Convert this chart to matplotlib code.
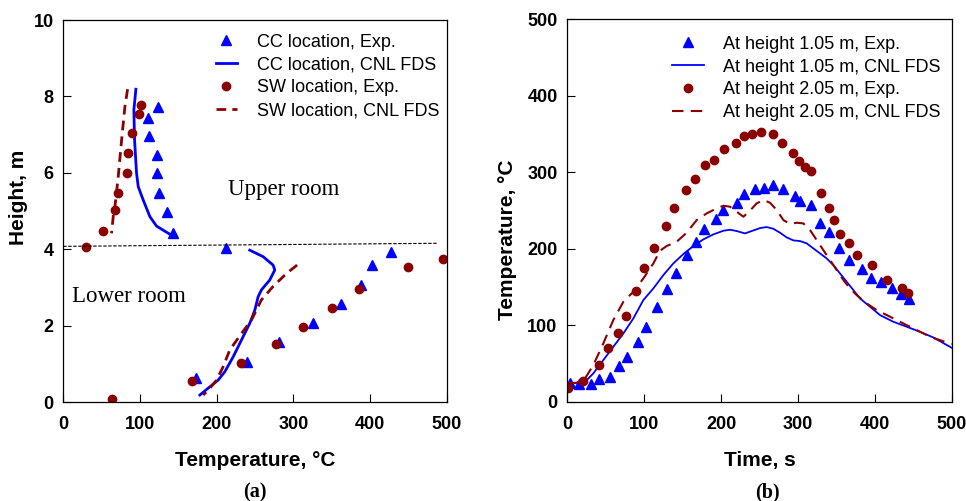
import matplotlib
matplotlib.use("Agg")
import matplotlib.pyplot as plt

plt.rcParams['font.family'] = ['Liberation Sans', 'DejaVu Sans']

blue = '#0000FF'
red = '#8B0000'

# (a) height profiles
cc_exp_T = [123.7, 110.7, 112, 121.5, 121.5, 124.6, 135.4, 143.2, 212.7,
            427.5, 402.3, 387.6, 361.5, 325.5, 280.8, 239.6, 172.7]
cc_exp_H = [7.72, 7.45, 6.97, 6.47, 6.0, 5.47, 4.98, 4.42, 4.03,
            3.93, 3.59, 3.06, 2.57, 2.08, 1.57, 1.05, 0.63]

sw_exp_T = [101.6, 98.5, 89, 84.6, 82.9, 71.6, 67.3, 51.2, 29.5,
            494.8, 449.2, 385.4, 350.7, 312.9, 276.9, 231.3, 167.5, 63.8]
sw_exp_H = [7.79, 7.53, 7.05, 6.51, 6.0, 5.48, 5.03, 4.49, 4.07,
            3.75, 3.53, 2.96, 2.48, 1.97, 1.53, 1.02, 0.56, 0.09]

cc_up_T = [94.6, 92, 92.9, 95.5, 97.7, 104.2, 112.8, 121.5, 134.5, 145.4]
cc_up_H = [8.19, 7.65, 6.86, 5.99, 5.64, 5.29, 4.86, 4.61, 4.45, 4.32]
cc_lo_T = [243, 260.4, 273.4, 275.6, 269.1, 258.2, 253.9, 249.6, 243.1,
           232.2, 221.4, 210.5, 201.8, 188.8, 178]
cc_lo_H = [3.98, 3.81, 3.59, 3.46, 3.2, 2.94, 2.76, 2.41, 2.07,
           1.63, 1.19, 0.8, 0.58, 0.37, 0.19]

sw_up_T = [83.8, 80.3, 76, 71.6, 67.3, 65.1, 62.9]
sw_up_H = [8.19, 7.73, 6.86, 5.9, 5.12, 4.86, 4.42]
sw_lo_T = [304.7, 290.8, 273.4, 258.2, 245.2, 232.2, 217, 208.3, 199.7, 191, 182.3]
sw_lo_H = [3.59, 3.37, 3.03, 2.68, 2.15, 1.8, 1.37, 0.93, 0.58, 0.37, 0.19]

# (b) time histories
t105_exp = [3.5, 15.6, 30.4, 41.6, 55.5, 67.7, 78.1, 91.5, 101.9, 117.1, 129.2,
            141.4, 155.2, 167, 177.8, 193.4, 203, 220.3, 230.3, 244.1, 255.9,
            267.1, 280.1, 296.6, 302.7, 316.6, 328.7, 340.9, 353.9, 366.9,
            382.9, 394.6, 407.6, 421.9, 433.6, 444.9]
T105_exp = [24, 22.7, 22.7, 29.2, 32.7, 46.6, 58, 78.5, 98, 123.4, 146.9,
            168.7, 192.2, 209.2, 225.4, 239.3, 250.7, 260.2, 271.1, 278.6, 279,
            282.9, 278.1, 269, 262.9, 256.8, 234.1, 222.3, 200.5, 185.3,
            173.1, 162.2, 156.1, 148.2, 140.4, 133.8]

t205_exp = [1.3, 19.9, 41.2, 53.3, 65.5, 75.9, 89.3, 100.2, 113.2, 127.9, 139.2,
            154.8, 166.6, 178.7, 190.9, 203.4, 219.4, 229.8, 240.7, 252, 268,
            279.3, 294, 301.4, 308.8, 316.6, 330, 340, 347.4, 355.2, 366.5,
            376.4, 396, 415.4, 435, 443.6]
T205_exp = [17.4, 27, 48, 69.7, 89.4, 112.5, 144.7, 174.4, 201.4, 230.2, 253.7,
            276.8, 291.6, 309.5, 316, 330.4, 337.8, 347.9, 349.6, 353.1, 349.6,
            337.8, 325.6, 314.3, 306.9, 301.7, 272.5, 252.8, 237.1, 219.7, 207.9,
            191.8, 178.3, 158.7, 149.1, 142.5]

t105_fds = [0, 12.1, 25.2, 33.8, 46.8, 59.8, 72.9, 85.9, 98.9, 111.9, 124.9,
            137.9, 150.9, 163.9, 176.9, 189.9, 203, 211.6, 220.3, 231.1, 239.8,
            250.7, 259.3, 268, 276.7, 285.3, 294, 302.7, 311.4, 320, 328.7,
            337.4, 346, 354.7, 363.4, 372.1, 380.7, 393.8, 406.8, 424.1, 441.5,
            458.8, 476.1, 500]
T105_fds = [24, 24.8, 28.3, 37.1, 54.5, 71.9, 89.4, 109, 133, 148.2, 165.6,
            180.9, 193.1, 203.6, 212.3, 218.8, 223.6, 224.9, 223.2, 220.1, 223.2,
            227.1, 228.4, 226.2, 221, 214.9, 211, 210.1, 207.1, 200.5, 194,
            187.4, 178.7, 167.8, 156.9, 146, 135.1, 124.2, 113.3, 104.6, 98.1,
            91.5, 84.1, 70.6]

t205_fds = [0, 12.1, 23, 33.8, 46.8, 59.8, 72.9, 85.9, 98.9, 111.9, 120.6,
            129.2, 142.2, 155.2, 168.3, 181.3, 194.3, 203, 211.6, 220.3, 229,
            237.6, 246.3, 255, 263.7, 272.3, 281, 289.7, 298.4, 307, 315.7,
            324.4, 333, 341.7, 350.4, 359.1, 367.7, 376.4, 389.4, 402.4, 419.8,
            437.1, 454.5, 471.8, 500]
T205_fds = [24.8, 24.8, 30.5, 48, 76.3, 106.8, 130.8, 143.9, 161.3, 180.9, 197.5,
            203.6, 209.2, 221, 237.6, 246.3, 252.8, 256.3, 255, 248.5, 241.9,
            249.8, 259.4, 263.7, 260.2, 250.7, 237.6, 232.3, 234.1, 233.2, 224.5,
            211.4, 198.3, 185.3, 172.2, 159.1, 148.2, 139.5, 128.6, 119.9, 111.2,
            102.4, 93.7, 85, 75.4]

fig = plt.figure(figsize=(9.66, 5.01), dpi=100)
ax1 = fig.add_axes([0.0655, 0.197, 0.3972, 0.763])
ax2 = fig.add_axes([0.5873, 0.198, 0.3979, 0.7635])

# ---- panel (a)
ax1.plot(cc_exp_T, cc_exp_H, '^', color=blue, ms=7.5, ls='none', label='CC location, Exp.')
ax1.plot(cc_up_T, cc_up_H, '-', color=blue, lw=2, label='CC location, CNL FDS')
ax1.plot(cc_lo_T, cc_lo_H, '-', color=blue, lw=2)
ax1.plot(sw_exp_T, sw_exp_H, 'o', color=red, ms=6, ls='none', label='SW location, Exp.')
ax1.plot(sw_up_T, sw_up_H, color=red, lw=2, dashes=(3.5, 2.2), label='SW location, CNL FDS')
ax1.plot(sw_lo_T, sw_lo_H, color=red, lw=2, dashes=(3.5, 2.2))
ax1.plot([0, 488], [4.08, 4.16], color='black', lw=0.8, dashes=(3, 1.5))

ax1.text(215, 5.57, 'Upper room', family='Liberation Serif', fontsize=16.5, va='center')
ax1.text(12, 2.76, 'Lower room', family='Liberation Serif', fontsize=16.5, va='center')

ax1.set_xlim(0, 500)
ax1.set_ylim(0, 10)
ax1.set_xticks(range(0, 501, 100))
ax1.set_yticks(range(0, 11, 2))
ax1.set_xlabel('Temperature, °C', fontsize=15, fontweight='bold')
ax1.set_ylabel('Height, m', fontsize=15, fontweight='bold')
ax1.xaxis.set_label_coords(0.5, -0.128)
ax1.yaxis.set_label_coords(-0.092, 0.537)
ax1.legend(loc='upper left', bbox_to_anchor=(0.398, 0.964), frameon=False,
           fontsize=13, handlelength=1.15, handletextpad=1.14, borderpad=0,
           labelspacing=0.32, borderaxespad=0)

# ---- panel (b)
ax2.plot(t105_exp, T105_exp, '^', color=blue, ms=7.5, ls='none', label='At height 1.05 m, Exp.')
ax2.plot(t105_fds, T105_fds, '-', color=blue, lw=1.3, label='At height 1.05 m, CNL FDS')
ax2.plot(t205_exp, T205_exp, 'o', color=red, ms=6, ls='none', label='At height 2.05 m, Exp.')
ax2.plot(t205_fds, T205_fds, color=red, lw=1.5, dashes=(5.5, 3.5), label='At height 2.05 m, CNL FDS')

ax2.set_xlim(0, 500)
ax2.set_ylim(0, 500)
ax2.set_xticks(range(0, 501, 100))
ax2.set_yticks(range(0, 501, 100))
ax2.set_xlabel('Time, s', fontsize=15, fontweight='bold')
ax2.set_ylabel('Temperature, °C', fontsize=15, fontweight='bold')
ax2.xaxis.set_label_coords(0.5, -0.128)
ax2.yaxis.set_label_coords(-0.131, 0.423)
ax2.legend(loc='upper left', bbox_to_anchor=(0.272, 0.957), frameon=False,
           fontsize=13, handlelength=1.8, handletextpad=1.04, borderpad=0,
           labelspacing=0.32, borderaxespad=0)

for ax in (ax1, ax2):
    ax.tick_params(direction='in', length=5.5, width=0.8, labelsize=13, pad=7,
                   top=False, right=False)
    ax.tick_params(axis='x', pad=10)
    for lab in ax.get_xticklabels() + ax.get_yticklabels():
        lab.set_fontweight('bold')
    for s in ax.spines.values():
        s.set_linewidth(0.9)

fig.text(255 / 966, 1 - 492 / 501, '(a)', family='Liberation Serif', fontsize=14.5,
         fontweight='bold', ha='center', va='center')
fig.text(767 / 966, 1 - 492 / 501, '(b)', family='Liberation Serif', fontsize=14.5,
         fontweight='bold', ha='center', va='center')

fig.savefig('out.png', dpi=100)
